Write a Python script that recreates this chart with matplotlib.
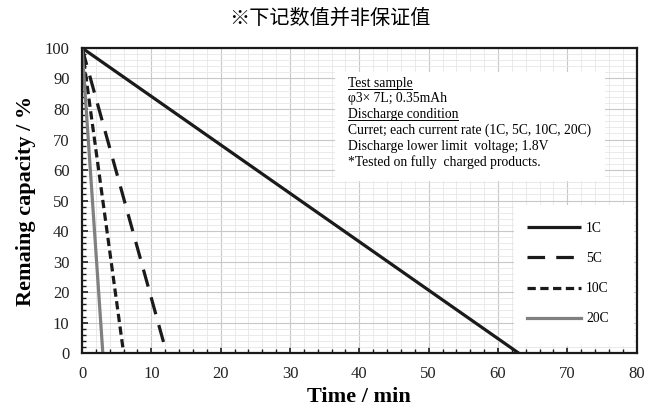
import matplotlib.pyplot as plt
from matplotlib.lines import Line2D
from matplotlib.patches import Rectangle

# discharge curves: time (min) vs remaining capacity (%)
labels = ['1C', '5C', '10C', '20C']
t_1c = [0, 63]
cap_1c = [100, 0]
t_5c = [0, 12.2]
cap_5c = [100, 0]
t_10c = [0, 6.0]
cap_10c = [100, 0]
t_20c = [0, 3.0]
cap_20c = [100, 0]

note_lines = ['Test sample',
              'φ3× 7L; 0.35mAh',
              'Discharge condition',
              'Curret; each current rate (1C, 5C, 10C, 20C)',
              'Discharge lower limit  voltage; 1.8V',
              '*Tested on fully  charged products.']
underlined = [0, 2]

plt.rcParams['font.family'] = ['Liberation Serif', 'DejaVu Serif']

fig = plt.figure(figsize=(6.51, 4.17), dpi=100)
ax = fig.add_axes([0.126, 0.153, 0.852, 0.732])

ax.plot(t_1c, cap_1c, color='#1a1a1a', lw=2.3, label=labels[0], solid_capstyle='butt')
ax.plot(t_5c, cap_5c, color='#1a1a1a', lw=2.3, dashes=(5.5, 3.5), label=labels[1])
ax.plot(t_10c, cap_10c, color='#1a1a1a', lw=2.3, dashes=(2.6, 1.4), label=labels[2])
ax.plot(t_20c, cap_20c, color='#808080', lw=2.3, label=labels[3])

ax.set_xlim(0, 80)
ax.set_ylim(0, 100)
ax.set_xticks(range(0, 81, 10))
ax.set_yticks(range(0, 101, 10))
ax.set_xticks(range(0, 81, 2), minor=True)
ax.set_yticks(range(0, 101, 2), minor=True)
ax.grid(which='major', color='#c8c8c8', lw=0.8)
ax.grid(which='minor', color='#e6e6e6', lw=0.6)
ax.set_axisbelow(True)
ax.tick_params(which='both', direction='in', labelsize=12, color='#1a1a1a', labelcolor='#222222')
ax.tick_params(which='major', length=4, width=1.2, pad=9)
ax.tick_params(which='minor', length=3, width=1.0)
for s in ax.spines.values():
    s.set_linewidth(1.6)
    s.set_color('#1a1a1a')

ax.set_xlabel('Time / min', fontsize=16, fontweight='bold', labelpad=4)
ax.set_ylabel('Remaing capacity / %', fontsize=16, fontweight='bold', labelpad=6)

fig.text(0.507, 0.955, '※下记数值并非保证值', ha='center', va='center', fontsize=14.5,
         family=['Noto Sans CJK SC', 'DejaVu Sans'])

# note box
ax.add_patch(Rectangle((36.5, 56.5), 39, 35.5, facecolor='white', edgecolor='none', zorder=3))
texts = []
y0 = 88.5
for i, line in enumerate(note_lines):
    t = ax.text(38.3, y0 - i * 5.2, line, fontsize=9.8, va='center', ha='left', zorder=4)
    texts.append(t)

# legend box
ax.add_patch(Rectangle((62.3, 2.5), 17.3, 46.0, facecolor='white', edgecolor='none', zorder=3))
leg = ax.legend(loc='upper left', bbox_to_anchor=(0.802, 0.429), fontsize=9.8, frameon=False,
                handlelength=4.0, labelspacing=1.25, borderpad=0, borderaxespad=0,
                handletextpad=0.35)
leg.set_zorder(5)

fig.canvas.draw()
r = fig.canvas.get_renderer()
inv = fig.transFigure.inverted()
for i in underlined:
    bb = texts[i].get_window_extent(r)
    (x0, yb), (x1, _) = inv.transform([(bb.x0, bb.y0 + 1), (bb.x1, bb.y0)])
    fig.add_artist(Line2D([x0, x1], [yb, yb], color='black', lw=0.7, zorder=6))

fig.savefig('out.png', dpi=100)
